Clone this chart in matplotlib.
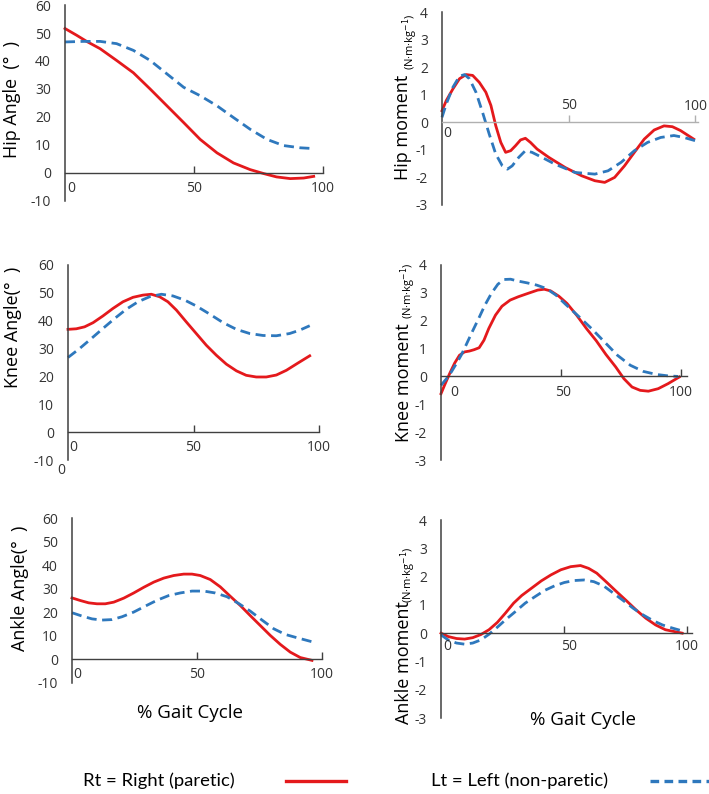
import numpy as np
import matplotlib
matplotlib.use("Agg")
import matplotlib.pyplot as plt

plt.rcParams['font.family'] = ['Open Sans', 'DejaVu Sans']

RED = "#e4191c"
BLUE = "#2e78bd"

# ---- data (x = % gait cycle) ----
hip_ang_rt_x = [0, 4.5, 8.4, 13.6, 20, 26.5, 33, 39.5, 46, 52.4, 58.9, 65.3, 71.8, 77, 82, 87.3, 92.5, 96.4]
hip_ang_rt_y = [51.6, 49.2, 47, 44.4, 40.2, 35.8, 30, 24, 18, 12, 7.2, 3.6, 1.2, -0.2, -1.4, -2, -1.8, -1.2]
hip_ang_lt_x = [0, 7.1, 13.6, 20, 26.5, 33, 39.5, 46, 52.4, 58.9, 65.3, 71.8, 78.3, 84.7, 91.2, 95]
hip_ang_lt_y = [46.8, 47, 47, 46.2, 43.8, 40.2, 35.4, 30.6, 27.6, 24, 19.8, 15.6, 12, 9.8, 9, 8.8]

hip_mom_rt_x = [0, 1.7, 4.3, 6.9, 9.5, 12.1, 14.7, 17.3, 19.3, 21.2, 23.2, 25.1, 27.1, 29.0, 31.0,
                32.9, 34.9, 37.5, 42.1, 48.6, 55.1, 60.3, 64.2, 68.1, 72.0, 75.9, 79.8, 83.7,
                87.6, 90.9, 94.1, 99.3]
hip_mom_rt_y = [0.42, 0.79, 1.21, 1.58, 1.73, 1.70, 1.45, 1.09, 0.61, -0.12, -0.73, -1.09, -1.03,
                -0.85, -0.64, -0.58, -0.73, -0.97, -1.27, -1.64, -1.94, -2.12, -2.18, -2.0, -1.58,
                -1.09, -0.61, -0.28, -0.13, -0.16, -0.30, -0.61]
hip_mom_lt_x = [0, 1.7, 4.3, 6.9, 8.9, 10.8, 13.4, 16.0, 18.6, 21.2, 23.8, 25.8, 27.7, 30.3, 32.9,
                35.5, 39.4, 44.6, 52.5, 60.3, 65.5, 70.7, 75.9, 81.1, 86.3, 91.5, 95.4, 100]
hip_mom_lt_y = [0.18, 0.67, 1.27, 1.67, 1.73, 1.58, 1.09, 0.36, -0.42, -1.15, -1.58, -1.70, -1.58,
                -1.27, -1.03, -1.09, -1.27, -1.52, -1.82, -1.88, -1.76, -1.45, -1.03, -0.73, -0.55,
                -0.48, -0.55, -0.67]

knee_ang_rt_x = [0, 3.3, 6.6, 10, 13.9, 17.9, 21.9, 25.9, 29.9, 33.2, 36.5, 39.8, 43.2, 47.1, 51.1,
                 55.1, 59.1, 63.1, 67.1, 71, 75, 79, 83, 87, 91.6, 96.3]
knee_ang_rt_y = [36.9, 37.1, 37.8, 39.3, 41.7, 44.4, 46.8, 48.4, 49.2, 49.5, 48.6, 46.8, 43.8, 39.6,
                 35.4, 31.2, 27.6, 24.4, 22, 20.4, 19.8, 19.8, 20.5, 22.2, 24.8, 27.4]
knee_ang_lt_x = [0, 4.6, 9.3, 13.9, 18.6, 23.2, 27.9, 32.5, 37.2, 41.8, 46.5, 51.1, 56.4, 61.8, 67.1,
                 72.4, 77.7, 83, 88.3, 92.3, 96.3]
knee_ang_lt_y = [26.8, 30, 33.6, 37.2, 40.8, 44.1, 46.8, 48.6, 49.5, 48.9, 47.4, 45.3, 42.4, 39.3,
                 36.9, 35.4, 34.7, 34.6, 35.4, 36.6, 38.2]

knee_mom_rt_x = [0, 1.6, 3.7, 5.7, 7.7, 9.8, 11.8, 13.8, 15.9, 17.9, 19.9, 22.7, 25.4, 28.8, 32.2,
                 36.2, 40.3, 43.0, 45.7, 49.1, 52.5, 56.5, 60.6, 64.7, 68.7, 72.8, 76.2, 79.6,
                 83.0, 86.4, 90.5, 94.6, 99.3]
knee_mom_rt_y = [-0.62, -0.29, 0.12, 0.48, 0.76, 0.88, 0.91, 0.96, 1.03, 1.30, 1.72, 2.20, 2.52,
                 2.74, 2.86, 2.98, 3.10, 3.13, 3.07, 2.88, 2.62, 2.20, 1.72, 1.28, 0.79, 0.34,
                 -0.08, -0.38, -0.50, -0.53, -0.44, -0.26, -0.02]
knee_mom_lt_x = [0, 2.3, 4.3, 6.4, 8.4, 10.4, 13.0, 15.7, 18.3, 21.0, 23.7, 26.3, 29.0, 31.7, 35.8,
                 39.8, 43.8, 47.9, 51.9, 57.3, 62.7, 68.1, 73.5, 78.9, 84.3, 89.8, 94.6, 98.8]
knee_mom_lt_y = [-0.32, -0.08, 0.16, 0.46, 0.76, 1.12, 1.60, 2.08, 2.56, 2.98, 3.31, 3.48, 3.49,
                 3.43, 3.36, 3.28, 3.16, 2.92, 2.59, 2.16, 1.72, 1.24, 0.76, 0.40, 0.18, 0.07,
                 0.02, 0]

ank_ang_rt_x = [0, 3.3, 6.7, 10, 13.3, 16.7, 20.7, 24.7, 28.7, 32.7, 36.7, 40.7, 44.7, 48, 51.3,
                55.3, 59.3, 63.3, 67.3, 71.3, 75.3, 79.3, 83.3, 87.3, 91.3, 96]
ank_ang_rt_y = [26.1, 25.0, 24.0, 23.6, 23.6, 24.3, 26.0, 28.2, 30.6, 32.8, 34.5, 35.6, 36.2, 36.2,
                35.6, 33.9, 30.8, 26.8, 22.9, 18.6, 14.4, 10.2, 6.4, 3.1, 0.8, -0.4]
ank_ang_lt_x = [0, 4, 8, 12, 16, 20, 24.7, 29.3, 34, 38.7, 43.3, 48, 52.7, 57.3, 62, 66.7, 71.3,
                76, 80.7, 85.3, 90, 96.7]
ank_ang_lt_y = [19.8, 18.4, 17.2, 16.7, 16.9, 18.1, 20.1, 22.6, 25.1, 27.1, 28.2, 29.0, 29.0, 28.2,
                26.6, 23.7, 20.5, 16.7, 13.0, 10.6, 9.2, 7.3]

ank_mom_rt_x = [0, 2.9, 6.3, 9.6, 12.9, 16.2, 19.5, 22.9, 26.2, 29.5, 32.8, 36.8, 40.8, 44.7, 48.7,
                52.7, 56.7, 60.0, 63.3, 67.3, 71.3, 75.3, 79.3, 83.2, 87.2, 91.2, 98.0]
ank_mom_rt_y = [0, -0.12, -0.19, -0.21, -0.16, -0.05, 0.12, 0.38, 0.71, 1.06, 1.33, 1.59, 1.85,
                2.06, 2.24, 2.35, 2.39, 2.29, 2.12, 1.80, 1.47, 1.15, 0.82, 0.53, 0.29, 0.12, 0]
ank_mom_lt_x = [0, 2.9, 6.3, 9.6, 12.9, 16.2, 19.5, 22.9, 26.2, 30.2, 34.2, 38.2, 42.1, 46.1, 50.1,
                54.1, 58.1, 62.1, 66.1, 70.1, 74.1, 78.1, 82.0, 86.0, 90.0, 94.0, 98.0]
ank_mom_lt_y = [-0.06, -0.24, -0.35, -0.39, -0.35, -0.24, -0.04, 0.21, 0.47, 0.76, 1.06, 1.29,
                1.51, 1.67, 1.79, 1.86, 1.88, 1.82, 1.67, 1.41, 1.15, 0.88, 0.65, 0.45, 0.29,
                0.18, 0.08]

angle_ticks = [-10, 0, 10, 20, 30, 40, 50, 60]
moment_ticks = [-3, -2, -1, 0, 1, 2, 3, 4]

W, H = 709, 794
fig = plt.figure(figsize=(W / 100, H / 100), dpi=100)


def px_axes(x0, x100, ytop, ybot):
    return fig.add_axes([x0 / W, 1 - ybot / H, (x100 - x0) / W, (ybot - ytop) / H])


def style(ax, yticks, xmax, xaxis_color="#404040"):
    ax.set_xlim(0, xmax)
    ax.set_ylim(yticks[0], yticks[-1])
    ax.set_yticks(yticks)
    ax.set_yticklabels([str(t) for t in yticks], fontsize=10, color="#333333")
    ax.tick_params(axis="y", length=0, pad=10)
    ax.spines["top"].set_visible(False)
    ax.spines["right"].set_visible(False)
    ax.spines["left"].set_color("#404040")
    ax.spines["left"].set_linewidth(1.1)
    ax.spines["bottom"].set_position(("data", 0))
    ax.spines["bottom"].set_color(xaxis_color)
    ax.spines["bottom"].set_linewidth(1.0)
    ax.set_xticks([50, 100])
    ax.set_xticklabels([])
    ax.tick_params(axis="x", direction="in", length=5, color=xaxis_color, width=1.0)
    ax.patch.set_visible(False)


def curves(ax, rx, ry, lx, ly):
    ax.plot(rx, ry, color=RED, lw=2.0, solid_joinstyle="round", clip_on=False)
    ax.plot(lx, ly, color=BLUE, lw=2.0, dashes=(3.6, 2.0), clip_on=False)


def xlabels(ax, pos):
    for x, y, s in pos:
        ax.text(x, y, s, fontsize=10, ha="center", va="center", color="#333333", clip_on=False)


# Hip angle
ax1 = px_axes(65, 323, 5, 201)
style(ax1, angle_ticks, 100)
curves(ax1, hip_ang_rt_x, hip_ang_rt_y, hip_ang_lt_x, hip_ang_lt_y)
xlabels(ax1, [(2.5, -5.6, "0"), (50, -5.6, "50"), (100, -5.6, "100")])

# Hip moment
ax2 = px_axes(442, 698, 12, 205)
style(ax2, moment_ticks, 101, xaxis_color="#b0b0b0")
curves(ax2, hip_mom_rt_x, hip_mom_rt_y, hip_mom_lt_x, hip_mom_lt_y)
xlabels(ax2, [(2.0, -0.42, "0"), (50, 0.6, "50"), (100, 0.57, "100")])

# Knee angle
ax3 = px_axes(68, 319, 265, 460)
style(ax3, angle_ticks, 100)
curves(ax3, knee_ang_rt_x, knee_ang_rt_y, knee_ang_lt_x, knee_ang_lt_y)
xlabels(ax3, [(2.0, -5.4, "0"), (50, -5.4, "50"), (100, -5.4, "100"), (-2.7, -13.8, "0")])

# Knee moment
ax4 = px_axes(441, 687, 265, 460)
style(ax4, moment_ticks, 102.5)
curves(ax4, knee_mom_rt_x, knee_mom_rt_y, knee_mom_lt_x, knee_mom_lt_y)
xlabels(ax4, [(5.7, -0.56, "0"), (51, -0.56, "50"), (100, -0.56, "100")])

# Ankle angle
ax5 = px_axes(72, 322, 518, 683)
style(ax5, angle_ticks, 100)
curves(ax5, ank_ang_rt_x, ank_ang_rt_y, ank_ang_lt_x, ank_ang_lt_y)
xlabels(ax5, [(2.0, -6.4, "0"), (50, -6.4, "50"), (100, -6.4, "100")])

# Ankle moment
ax6 = px_axes(441, 692, 520, 718)
style(ax6, moment_ticks, 102)
curves(ax6, ank_mom_rt_x, ank_mom_rt_y, ank_mom_lt_x, ank_mom_lt_y)
xlabels(ax6, [(2.5, -0.47, "0"), (52, -0.47, "50"), (100, -0.47, "100")])


def ftext(x, y, s, **kw):
    fig.text(x / W, 1 - y / H, s, ha="center", va="center", **kw)


# y labels (angles)
ftext(12, 100, "Hip Angle  (°  )", rotation=90, fontsize=13)
ftext(13, 327, "Knee Angle(°  )", rotation=90, fontsize=13)
ftext(20, 588, "Ankle Angle(°  )", rotation=90, fontsize=13)

# y labels (moments)
ftext(403, 127, "Hip moment", rotation=90, fontsize=13)
ftext(410, 42, "(N·m·kg$^{-1}$)", rotation=90, fontsize=8)
ftext(404, 383, "Knee moment", rotation=90, fontsize=13)
ftext(408, 291, "(N·m·kg$^{-1}$)", rotation=90, fontsize=8)
ftext(404, 663, "Ankle moment", rotation=90, fontsize=13)
ftext(408, 575, "(N·m·kg$^{-1}$)", rotation=90, fontsize=8)

# x titles
ftext(190, 713, "% Gait Cycle", fontsize=13.5)
ftext(583, 720, "% Gait Cycle", fontsize=13.5)

# legend row
ftext(159, 781, "Rt = Right (paretic)", fontsize=13.3, family=["Lato", "DejaVu Sans"])
ftext(520, 781, "Lt = Left (non-paretic)", fontsize=13.3, family=["Lato", "DejaVu Sans"])
fig.add_artist(plt.Line2D([286 / W, 346 / W], [1 - 781 / H, 1 - 781 / H], color=RED, lw=2.4))
fig.add_artist(plt.Line2D([650 / W, 709 / W], [1 - 781 / H, 1 - 781 / H], color=BLUE, lw=2.4,
                          dashes=(2.6, 1.6)))

fig.savefig("out.png", dpi=100)
